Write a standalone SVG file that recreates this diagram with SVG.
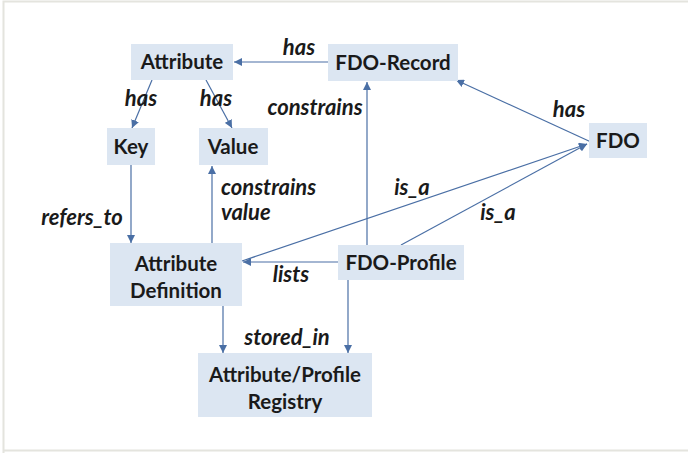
<svg xmlns="http://www.w3.org/2000/svg" width="688" height="453" viewBox="0 0 688 453">
<defs>
<marker id="ah" viewBox="0 0 10 10" refX="10" refY="5" markerWidth="8" markerHeight="8" markerUnits="userSpaceOnUse" orient="auto">
<path d="M0,0 L10,5 L0,10 Z" fill="#4a6fa5"/>
</marker>
<style>
.n rect{fill:#dce6f2;}
.n text{font-family:Lato,"Open Sans",sans-serif;font-weight:bold;font-size:20.5px;fill:#1a1a1a;text-anchor:middle;}
.e line{stroke:#4a6fa5;stroke-width:1.2;fill:none;marker-end:url(#ah);}
.l{font-family:Lato,"Open Sans",sans-serif;font-weight:bold;font-style:italic;font-size:22px;fill:#1a1a1a;}
</style>
</defs>
<rect x="0" y="0" width="688" height="453" fill="#ffffff"/>
<path d="M3.5,453 V1.5 H688 M3.5,450.5 H688" stroke="#e4e4de" stroke-width="2" fill="none"/>
<g class="e" id="connectors">
<line x1="328" y1="62" x2="234" y2="62"/>
<line x1="152" y1="80" x2="132" y2="128"/>
<line x1="206" y1="80" x2="232" y2="128"/>
<line x1="367" y1="245" x2="367" y2="82"/>
<line x1="591" y1="142" x2="456" y2="80"/>
<line x1="242" y1="261" x2="587" y2="144"/>
<line x1="401" y1="245" x2="587" y2="144"/>
<line x1="338" y1="262" x2="243" y2="262"/>
<line x1="131" y1="165" x2="131" y2="243"/>
<line x1="212" y1="243" x2="212" y2="166"/>
<line x1="223" y1="306" x2="223" y2="353"/>
<line x1="348" y1="280" x2="348" y2="353"/>
</g>
<g id="labels">
<text class="l" x="299" y="55" text-anchor="middle">has</text>
<text class="l" x="141" y="106" text-anchor="middle">has</text>
<text class="l" x="216" y="106" text-anchor="middle">has</text>
<text class="l" x="315" y="115" text-anchor="middle">constrains</text>
<text class="l" x="569" y="117" text-anchor="middle">has</text>
<text class="l" x="412" y="195" text-anchor="middle">is_a</text>
<text class="l" x="498" y="220" text-anchor="middle">is_a</text>
<text class="l" x="291" y="282" text-anchor="middle">lists</text>
<text class="l" x="82" y="225" text-anchor="middle">refers_to</text>
<text class="l" x="221" y="195">constrains</text>
<text class="l" x="221" y="220">value</text>
<text class="l" x="287" y="345" text-anchor="middle">stored_in</text>
</g>
<g class="n" id="attribute"><rect x="131" y="44" width="102" height="36"/><text x="182" y="69">Attribute</text></g>
<g class="n" id="fdo-record"><rect x="328" y="44" width="130" height="37"/><text x="393" y="70">FDO-Record</text></g>
<g class="n" id="key"><rect x="107" y="128" width="48" height="37"/><text x="131" y="154">Key</text></g>
<g class="n" id="value"><rect x="199" y="128" width="69" height="37"/><text x="233" y="154">Value</text></g>
<g class="n" id="fdo"><rect x="589" y="123" width="58" height="35"/><text x="618" y="148">FDO</text></g>
<g class="n" id="attribute-definition"><rect x="110" y="243" width="132" height="63"/><text x="176" y="271">Attribute</text><text x="176" y="298">Definition</text></g>
<g class="n" id="fdo-profile"><rect x="338" y="245" width="126" height="35"/><text x="401" y="270">FDO-Profile</text></g>
<g class="n" id="registry"><rect x="198" y="353" width="174" height="64"/><text x="285" y="382">Attribute/Profile</text><text x="285" y="409">Registry</text></g>
</svg>
